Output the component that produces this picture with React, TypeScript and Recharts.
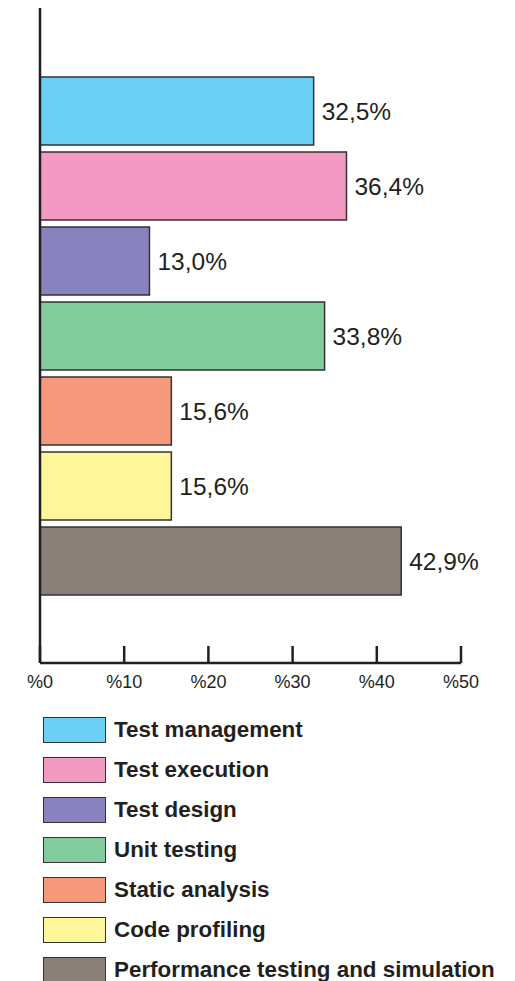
import { BarChart, Bar, XAxis, YAxis, Cell, LabelList } from 'recharts'

const categories = [
  'Test management',
  'Test execution',
  'Test design',
  'Unit testing',
  'Static analysis',
  'Code profiling',
  'Performance testing and simulation',
]
const shares = [32.5, 36.4, 13.0, 33.8, 15.6, 15.6, 42.9]
const COLORS = ['#6ccff6', '#f49ac2', '#8882be', '#82cb9c', '#f5987b', '#fff69a', '#8b7f7a']
const xTicks = [0, 10, 20, 30, 40, 50]

const data = categories.map((name, i) => ({ name, value: shares[i] }))

const FONT = '"Liberation Sans", Arial, Helvetica, sans-serif'
const INK = '#231f20'

const fmt = (v: number) => v.toFixed(1).replace('.', ',') + '%'

// tick marks point up into the plot, labels sit under the axis
const renderTick = (props: any) => {
  const { x, y, payload } = props
  return (
    <g key={'t' + payload.value}>
      <path d={`M${x},${y - 17}L${x},${y}`} stroke={INK} strokeWidth={2.5} fill="none" />
      <text x={x} y={y + 25} textAnchor="middle" fontSize={18} fontFamily={FONT} fill={INK}>
        {'%' + payload.value}
      </text>
    </g>
  )
}

const App = () => (
  <div style={{ position: 'absolute', left: 0, top: 0, width: 515, height: 981, background: '#fff' }}>
    <BarChart
      width={515}
      height={700}
      data={data}
      layout="vertical"
      margin={{ top: 8, right: 54, left: 0, bottom: 7 }}
    >
      <XAxis
        type="number"
        domain={[0, 50]}
        ticks={xTicks}
        tickLine={false}
        tickSize={0}
        tickMargin={0}
        height={30}
        axisLine={{ stroke: INK, strokeWidth: 2.5 }}
        tick={renderTick}
        interval={0}
      />
      <YAxis
        type="category"
        dataKey="name"
        width={40}
        tick={false}
        tickLine={false}
        axisLine={{ stroke: INK, strokeWidth: 2.5 }}
        padding={{ top: 65, bottom: 65 }}
      />
      <Bar dataKey="value" barSize={68} stroke="#333" strokeWidth={1.5} isAnimationActive={false}>
        {data.map((d, i) => (
          <Cell key={d.name} fill={COLORS[i]} />
        ))}
        <LabelList
          dataKey="value"
          position="right"
          offset={8}
          formatter={(v: any) => fmt(Number(v))}
          style={{ fontSize: 24.5, fontFamily: FONT, fill: INK }}
        />
      </Bar>
    </BarChart>
    <div style={{ position: 'absolute', left: 43, top: 716, fontFamily: FONT }}>
      {categories.map((c, i) => (
        <div key={c} style={{ display: 'flex', alignItems: 'center', height: 27, marginBottom: 13.1 }}>
          <div
            style={{
              width: 61,
              height: 24,
              background: COLORS[i],
              border: '1.5px solid #333',
              flex: 'none',
            }}
          />
          <span style={{ marginLeft: 8, fontSize: 22.4, fontWeight: 'bold', color: INK, whiteSpace: 'nowrap' }}>{c}</span>
        </div>
      ))}
    </div>
  </div>
)

export default App
